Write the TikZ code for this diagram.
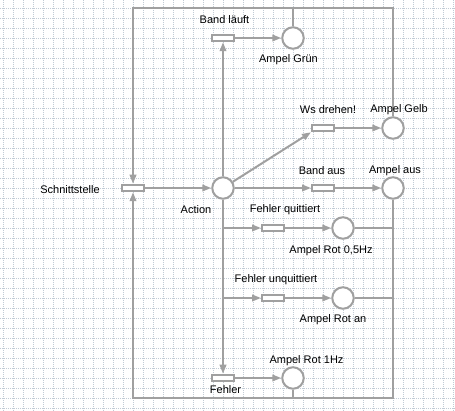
\documentclass[tikz,border=0pt]{standalone}
\usepackage{fontspec}
\setmainfont{Liberation Sans}
\usetikzlibrary{arrows.meta}
\definecolor{netgray}{RGB}{160,160,160}
\definecolor{gridblue}{RGB}{192,202,212}
\begin{document}
\begin{tikzpicture}[x=1pt,y=-1pt,
    font=\fontsize{11}{13}\selectfont,
    place/.style={circle,draw=netgray,fill=white,line width=2pt,minimum size=21.5pt,inner sep=0pt},
    trans/.style={rectangle,draw=netgray,fill=white,line width=2pt,minimum width=22pt,minimum height=6.5pt,inner sep=0pt},
    arc/.style={draw=netgray,line width=2pt,-{Triangle[length=9pt,width=6.5pt]}},
    wire/.style={draw=netgray,line width=2pt},
    gridline/.style={draw=gridblue,line width=0.9pt,dash pattern=on 1pt off 1pt}]
      \useasboundingbox[fill=white] (0,0) rectangle (455,411);
      \foreach \gx in {3,13,...,453} \draw[gridline] (\gx,0) -- (\gx,411);
      \foreach \gy in {8,18,...,408} \draw[gridline] (0,\gy) -- (455,\gy);
      \node[trans] (schnitt) at (133,188) {};
      \node[place] (action) at (223,188) {};
      \node[trans] (bandl) at (223,38) {};
      \node[place] (gruen) at (293,38) {};
      \node[trans] (wsdreh) at (323,128) {};
      \node[place] (gelb) at (393,128) {};
      \node[trans] (bandaus) at (323,188) {};
      \node[place] (aus) at (393,188) {};
      \node[trans] (fquitt) at (273,228) {};
      \node[place] (rot05) at (343,228) {};
      \node[trans] (funq) at (273,298) {};
      \node[place] (rotan) at (343,298) {};
      \node[trans] (fehler) at (223,378) {};
      \node[place] (rot1) at (293,378) {};
      \coordinate (nw) at (133,8);
      \coordinate (ne) at (393,8);
      \coordinate (sw) at (133,398);
      \coordinate (se) at (393,398);
      \coordinate (gtop) at (293,8);
      \coordinate (rbot) at (293,398);
      \coordinate (q) at (223,228);
      \coordinate (u) at (223,298);
      \coordinate (rq) at (393,228);
      \coordinate (ru) at (393,298);
      \draw[arc] (gelb) -- (ne) -- (nw) -- (schnitt);
      \draw[arc] (aus) -- (se) -- (sw) -- (schnitt);
      \draw[wire] (gruen) -- (gtop);
      \draw[wire] (rot1) -- (rbot);
      \draw[wire] (rot05) -- (rq);
      \draw[wire] (rotan) -- (ru);
      \draw[arc] (schnitt) -- (action);
      \draw[arc] (action) -- (bandl);
      \draw[arc] (action) -- (fehler);
      \draw[arc] (action) -- (wsdreh.south west);
      \draw[arc] (action) -- (bandaus);
      \draw[arc] (q) -- (fquitt);
      \draw[arc] (u) -- (funq);
      \draw[arc] (bandl) -- (gruen);
      \draw[arc] (wsdreh) -- (gelb);
      \draw[arc] (bandaus) -- (aus);
      \draw[arc] (fquitt) -- (rot05);
      \draw[arc] (funq) -- (rotan);
      \draw[arc] (fehler) -- (rot1);
      \node (lschnitt) at (70,190) {Schnittstelle};
      \node (laction) at (196,210) {Action};
      \node (lbandl) at (224.5,20) {Band läuft};
      \node (lgruen) at (288.5,60) {Ampel Grün};
      \node (lws) at (328,110) {Ws drehen!};
      \node (lgelb) at (399,110) {Ampel Gelb};
      \node (lbandaus) at (322,171) {Band aus};
      \node (laus) at (395,171) {Ampel aus};
      \node (lfq) at (285,210) {Fehler quittiert};
      \node (lrot05) at (331,251) {Ampel Rot 0,5Hz};
      \node (lfu) at (276,280) {Fehler unquittiert};
      \node (lrotan) at (333,320) {Ampel Rot an};
      \node (lrot1) at (306.5,361) {Ampel Rot 1Hz};
      \node (lfehler) at (225.5,390) {Fehler};
    \end{tikzpicture}
\end{document}
